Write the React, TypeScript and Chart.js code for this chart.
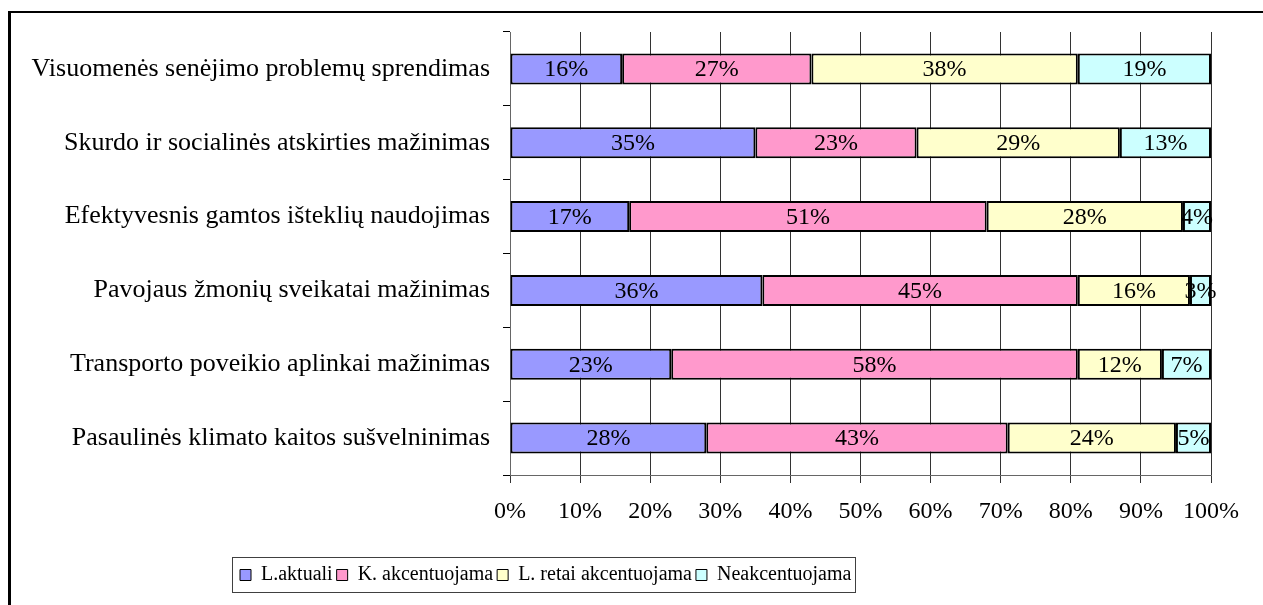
import React, { useEffect, useRef } from "react";
import { Chart, registerables } from "chart.js";

Chart.register(...registerables);

const categories = [
  "Visuomenės senėjimo problemų sprendimas",
  "Skurdo ir socialinės atskirties mažinimas",
  "Efektyvesnis gamtos išteklių naudojimas",
  "Pavojaus žmonių sveikatai mažinimas",
  "Transporto poveikio aplinkai mažinimas",
  "Pasaulinės klimato kaitos sušvelninimas",
];

const seriesNames = ["L.aktuali", "K. akcentuojama", "L. retai akcentuojama", "Neakcentuojama"];
const lAktuali = [16, 35, 17, 36, 23, 28];
const kAkcentuojama = [27, 23, 51, 45, 58, 43];
const lRetai = [38, 29, 28, 16, 12, 24];
const neakcentuojama = [19, 13, 4, 3, 7, 5];
const seriesColors = ["#9999FF", "#FF99CC", "#FFFFCC", "#CCFFFF"];
const xTicks = [0, 10, 20, 30, 40, 50, 60, 70, 80, 90, 100];

const FONT = '"Liberation Serif", "Times New Roman", serif';
const LEGEND_LEFT = 236;

const framePlugin = {
  id: "frame",
  afterLayout(chart: any) {
    const lg = chart.legend;
    if (lg) {
      lg.left = LEGEND_LEFT;
      lg.right = chart.width;
      lg.width = chart.width - LEGEND_LEFT;
    }
  },
  beforeDraw(chart: any) {
    const ctx = chart.ctx;
    ctx.save();
    ctx.fillStyle = "#ffffff";
    ctx.fillRect(0, 0, chart.width, chart.height);
    ctx.fillStyle = "#000000";
    ctx.fillRect(8, 11, 3, chart.height);
    ctx.fillRect(8, 11, chart.width, 2);
    ctx.restore();
  },
};

const labelPlugin = {
  id: "barLabels",
  afterDatasetsDraw(chart: any) {
    const ctx = chart.ctx;
    ctx.save();
    ctx.font = `24px ${FONT}`;
    ctx.fillStyle = "#000";
    ctx.textAlign = "center";
    ctx.textBaseline = "middle";
    chart.data.datasets.forEach((ds: any, i: number) => {
      const meta = chart.getDatasetMeta(i);
      meta.data.forEach((bar: any, j: number) => {
        const p = bar.getProps(["x", "y", "base"], true);
        ctx.fillText(ds.data[j] + "%", (p.x + p.base) / 2, p.y + 1);
      });
    });
    ctx.restore();
  },
};

const legendBoxPlugin = {
  id: "legendBox",
  afterDraw(chart: any) {
    const lg = chart.legend;
    if (!lg || !lg.legendHitBoxes || !lg.legendHitBoxes.length) return;
    const boxes = lg.legendHitBoxes;
    let minX = Infinity, maxX = -Infinity, minY = Infinity, maxY = -Infinity;
    boxes.forEach((b: any) => {
      minX = Math.min(minX, b.left);
      maxX = Math.max(maxX, b.left + b.width);
      minY = Math.min(minY, b.top);
      maxY = Math.max(maxY, b.top + b.height);
    });
    const cy = (minY + maxY) / 2;
    const ctx = chart.ctx;
    ctx.save();
    ctx.strokeStyle = "#404040";
    ctx.lineWidth = 1;
    ctx.strokeRect(Math.round(minX - 8) + 0.5, Math.round(cy - 18) + 0.5, Math.round(maxX - minX + 12), 35);
    ctx.restore();
  },
};

export default function App() {
  const ref = useRef<HTMLCanvasElement | null>(null);
  useEffect(() => {
    if (!ref.current) return;
    const values = [lAktuali, kAkcentuojama, lRetai, neakcentuojama];
    const chart = new Chart(ref.current, {
      type: "bar",
      data: {
        labels: categories,
        datasets: seriesNames.map((name, i) => ({
          label: name,
          data: values[i],
          backgroundColor: seriesColors[i],
          borderColor: "#000000",
          borderWidth: 2,
          borderSkipped: false,
          barPercentage: 0.42,
          categoryPercentage: 1,
        })),
      },
      options: {
        indexAxis: "y",
        responsive: false,
        animation: false,
        devicePixelRatio: 1,
        layout: { padding: { left: 0, right: 52, top: 32, bottom: 10 } },
        scales: {
          x: {
            stacked: true,
            min: 0,
            max: 100,
            afterBuildTicks(scale: any) {
              scale.ticks = xTicks.map((v) => ({ value: v }));
            },
            afterFit(scale: any) {
              scale.height = 86;
            },
            ticks: {
              callback: (v: any) => v + "%",
              color: "#000",
              font: { family: FONT, size: 24 },
              padding: 14,
              maxRotation: 0,
            },
            grid: { color: "#333333", lineWidth: 1, tickLength: 8, drawTicks: true },
            border: { display: true, color: "#666666", width: 1 },
          },
          y: {
            stacked: true,
            afterFit(scale: any) {
              scale.width = 510;
            },
            ticks: {
              color: "#000",
              font: { family: FONT, size: 26 },
              padding: 13,
            },
            grid: { offset: true, drawOnChartArea: false, color: "#000", tickLength: 7 },
            border: { display: true, color: "#666666", width: 1 },
          },
        },
        plugins: {
          legend: {
            position: "bottom",
            align: "start",
            labels: {
              color: "#000",
              font: { family: FONT, size: 20 },
              boxWidth: 11,
              boxHeight: 11,
              padding: 4,
              generateLabels(chart: any) {
                return chart.data.datasets.map((ds: any, i: number) => ({
                  text: ds.label,
                  fillStyle: ds.backgroundColor,
                  strokeStyle: "#000",
                  lineWidth: 1,
                  hidden: false,
                  datasetIndex: i,
                  fontColor: "#000",
                }));
              },
            },
          },
          tooltip: { enabled: false },
        },
      },
      plugins: [framePlugin, labelPlugin, legendBoxPlugin],
    } as any);
    return () => chart.destroy();
  }, []);
  return (
    <div style={{ position: "fixed", left: 0, top: 0, width: 1263, height: 605, background: "#fff" }}>
      <canvas ref={ref} width={1263} height={605} style={{ display: "block" }} />
    </div>
  );
}
